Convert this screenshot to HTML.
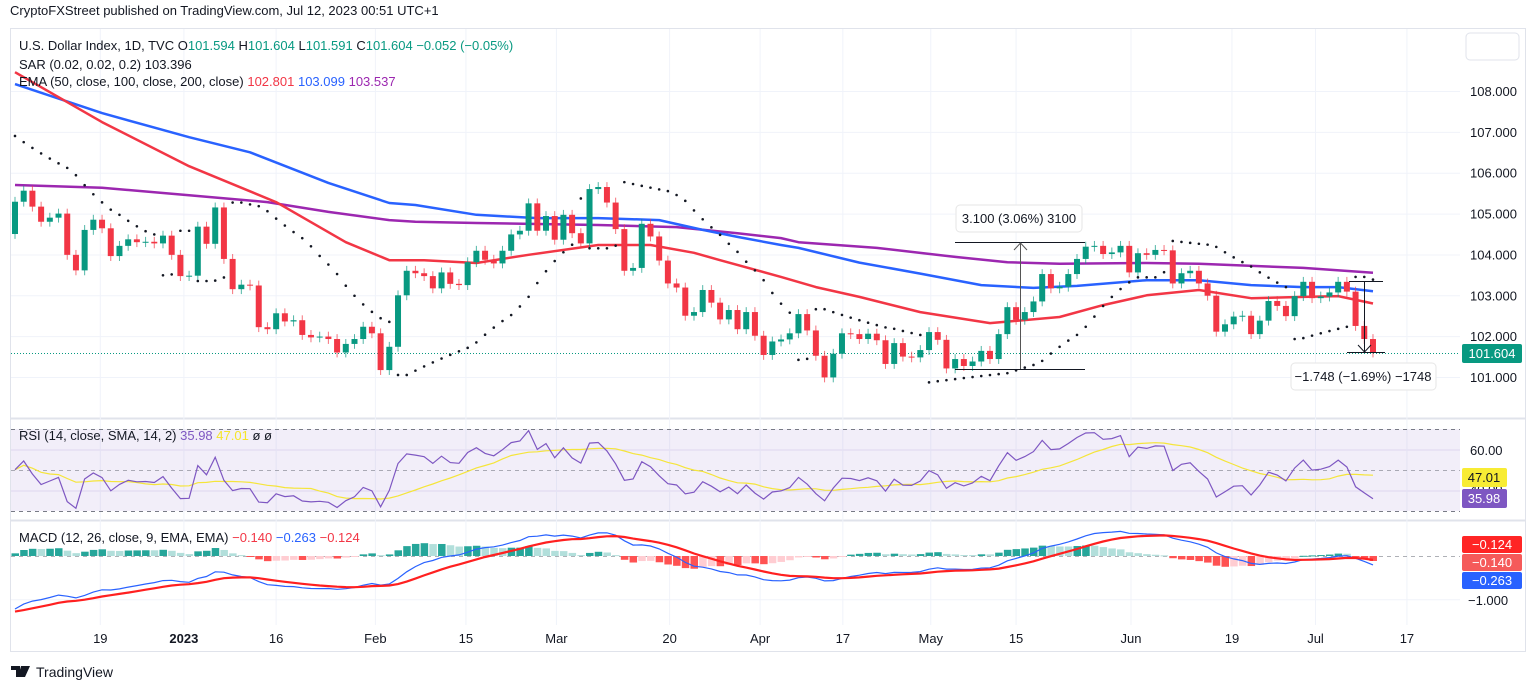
<!DOCTYPE html>
<html><head><meta charset="utf-8"><title>U.S. Dollar Index chart</title>
<style>
html,body{margin:0;padding:0;background:#fff;}
svg{display:block;font-family:"Liberation Sans",Arial,sans-serif;}
</style></head>
<body>
<svg id="chart" width="1536" height="690" viewBox="0 0 1536 690" xmlns="http://www.w3.org/2000/svg">
  <rect x="0" y="0" width="1536" height="690" fill="#ffffff"/>
  <text x="10" y="15" font-size="13" fill="#131722">CryptoFXStreet published on TradingView.com, Jul 12, 2023 00:51 UTC+1</text>
  <rect x="10.5" y="28.5" width="1515" height="623" fill="none" stroke="#e0e3eb"/>
  <line x1="10" y1="418.5" x2="1525" y2="418.5" stroke="#e0e3eb" stroke-width="2"/>
  <line x1="10" y1="520.5" x2="1525" y2="520.5" stroke="#e0e3eb" stroke-width="2"/>
  <g id="grid"></g>
  <rect x="11" y="429" width="1449" height="82" fill="#7e57c2" fill-opacity="0.1"/>
  <line x1="11" y1="429.5" x2="1460" y2="429.5" stroke="#787b86" stroke-dasharray="4,4"/>
  <line x1="11" y1="470.5" x2="1460" y2="470.5" stroke="#787b86" stroke-opacity="0.6" stroke-dasharray="4,4"/>
  <line x1="11" y1="511.5" x2="1460" y2="511.5" stroke="#787b86" stroke-dasharray="4,4"/>
  <line x1="11" y1="556.5" x2="1460" y2="556.5" stroke="#787b86" stroke-opacity="0.6" stroke-dasharray="4,4"/>
  <line x1="11" y1="353.5" x2="1460" y2="353.5" stroke="#089981" stroke-dasharray="1,2"/>
  <g id="plot"></g>

  <g>
    <line x1="955" y1="242.5" x2="1085" y2="242.5" stroke="#131722"/>
    <line x1="955" y1="369.5" x2="1085" y2="369.5" stroke="#131722"/>
    <line x1="1020.5" y1="369" x2="1020.5" y2="243" stroke="#555"/>
    <polyline points="1014,250 1020.5,243 1027,250" fill="none" stroke="#555"/>
    <rect x="956" y="205" width="126" height="27" rx="4" fill="#fff" stroke="#e6e6e6"/>
    <text x="1019" y="223" font-size="13" text-anchor="middle" fill="#131722">3.100 (3.06%) 3100</text>
  </g>
  <g>
    <line x1="1349" y1="281.5" x2="1383" y2="281.5" stroke="#131722"/>
    <line x1="1347" y1="352.5" x2="1385" y2="352.5" stroke="#131722"/>
    <line x1="1364.5" y1="282" x2="1364.5" y2="352" stroke="#131722"/>
    <polyline points="1358,345 1364.5,352 1371,345" fill="none" stroke="#131722"/>
    <rect x="1291" y="363" width="145" height="27" rx="4" fill="#fff" stroke="#e6e6e6"/>
    <text x="1363" y="381" font-size="13" text-anchor="middle" fill="#131722">−1.748 (−1.69%) −1748</text>
  </g>

  <text x="19" y="50" font-size="13" fill="#131722">U.S. Dollar Index, 1D, TVC <tspan fill="#131722">O</tspan><tspan fill="#089981">101.594</tspan> <tspan>H</tspan><tspan fill="#089981">101.604</tspan> <tspan>L</tspan><tspan fill="#089981">101.591</tspan> <tspan>C</tspan><tspan fill="#089981">101.604 −0.052 (−0.05%)</tspan></text>
  <text x="19" y="69" font-size="13" fill="#131722">SAR (0.02, 0.02, 0.2)  <tspan fill="#131722">103.396</tspan></text>
  <text x="19" y="86" font-size="13" fill="#131722">EMA (50, close, 100, close, 200, close) <tspan fill="#f23645">102.801</tspan> <tspan fill="#2962ff">103.099</tspan> <tspan fill="#9c27b0">103.537</tspan></text>
  <text x="19" y="440" font-size="13" fill="#131722">RSI (14, close, SMA, 14, 2) <tspan fill="#7e57c2">35.98</tspan> <tspan fill="#f5e52a">47.01</tspan> ø ø</text>
  <text x="19" y="542" font-size="13" fill="#131722">MACD (12, 26, close, 9, EMA, EMA) <tspan fill="#f23645">−0.140</tspan> <tspan fill="#2962ff">−0.263</tspan> <tspan fill="#f23645">−0.124</tspan></text>

  <rect x="1466" y="33" width="53" height="27" rx="4" fill="#fff" stroke="#e0e3eb"/>
  <g id="axis"></g>

  <rect x="1462" y="344" width="60" height="19" rx="2" fill="#089981"/>
  <text x="1492" y="358" font-size="13" text-anchor="middle" fill="#fff">101.604</text>
  <text x="1470" y="455" font-size="13" fill="#131722">60.00</text>
  <text x="1470" y="494" font-size="13" fill="#131722">40.00</text>
  <rect x="1462" y="468" width="45" height="19" rx="2" fill="#f8ec34"/>
  <text x="1484" y="482" font-size="13" text-anchor="middle" fill="#131722">47.01</text>
  <rect x="1462" y="489" width="45" height="19" rx="2" fill="#7e57c2"/>
  <text x="1484" y="503" font-size="13" text-anchor="middle" fill="#fff">35.98</text>
  <rect x="1462" y="536" width="60" height="17" rx="2" fill="#ff2525"/>
  <text x="1492" y="549" font-size="13" text-anchor="middle" fill="#fff">−0.124</text>
  <rect x="1462" y="554" width="60" height="17" rx="2" fill="#f55a5a"/>
  <text x="1492" y="567" font-size="13" text-anchor="middle" fill="#fff">−0.140</text>
  <rect x="1462" y="572" width="60" height="17" rx="2" fill="#2962ff"/>
  <text x="1492" y="585" font-size="13" text-anchor="middle" fill="#fff">−0.263</text>
  <text x="1468" y="605" font-size="13" fill="#131722">−1.000</text>

  <g id="timeaxis"></g>
  <g>
    <path d="M11 666h9v11h-4v-7h-5z M21 666h4l-3 11h-4z M25 666h5l-5 11h-3z" fill="#131722"/>
    <text x="36" y="677" font-size="14" fill="#131722">TradingView</text>
  </g>
</svg>
<script>
// ---- data ----
const closes = [105.29,105.56,105.17,104.80,104.90,105.00,103.99,103.61,104.60,104.85,
104.64,103.96,104.21,104.37,104.30,104.31,104.27,104.46,103.99,103.47,
103.48,104.68,104.26,105.15,103.89,103.15,103.26,103.24,102.22,102.17,
102.56,102.36,102.39,102.03,101.97,101.99,101.93,101.60,101.81,101.93,
102.23,102.07,101.17,101.74,103.00,103.60,103.54,103.47,103.17,103.56,
103.28,103.25,103.81,104.09,103.87,103.78,104.09,104.49,104.58,105.25,
104.58,104.94,104.36,104.97,104.52,104.27,105.60,105.65,105.27,104.62,
103.60,103.67,104.75,104.44,103.85,103.29,103.19,102.50,102.59,103.13,
102.82,102.41,102.64,102.17,102.59,102.01,101.54,101.87,101.92,102.07,
102.54,102.14,101.52,100.99,101.57,102.07,102.05,101.93,102.06,101.90,
101.32,101.83,101.50,101.48,101.66,102.10,101.91,101.21,101.44,101.27,
101.38,101.64,101.44,102.05,102.71,102.40,102.59,102.85,103.52,103.17,
103.21,103.52,103.89,104.19,104.21,104.01,104.05,104.21,103.56,104.03,
103.99,104.11,104.10,103.29,103.54,103.60,103.29,102.99,102.11,102.29,
102.48,102.50,102.05,102.38,102.86,102.74,102.49,102.98,103.33,102.93,
102.97,103.07,103.33,103.09,102.25,101.93,101.60];
const firstOpen = 104.50;
const ema50Bars = [0,10,20,30,38,43,47,53,59,67,73,78,81,88,92,97,104,112,120,125,130,136,142,148,152,156];
const ema50Vals = [108.46,107.24,106.16,105.28,104.30,103.86,103.86,103.79,103.99,104.23,104.23,104.04,103.86,103.45,103.20,102.96,102.59,102.32,102.47,102.76,103.00,103.13,102.93,102.96,102.98,102.80];
const ema100Bars = [0,10,20,27,36,43,46,53,60,67,74,79,83,88,90,97,104,111,117,122,130,136,142,148,152,156];
const ema100Vals = [108.17,107.46,106.87,106.5,105.75,105.26,105.21,104.97,104.89,104.89,104.84,104.6,104.43,104.23,104.16,103.8,103.53,103.25,103.18,103.23,103.37,103.37,103.25,103.2,103.2,103.1];
const ema200Bars = [0,10,20,29,36,43,46,53,67,76,83,88,90,99,108,114,120,130,136,148,156];
const ema200Vals = [105.7,105.63,105.45,105.28,105.04,104.84,104.8,104.77,104.72,104.67,104.52,104.4,104.3,104.16,103.94,103.81,103.77,103.79,103.77,103.67,103.55];
const priceTicks = [108,107,106,105,104,103,102,101];
const timeLabels = ["19","2023","16","Feb","15","Mar","20","Apr","17","May","15","Jun","19","Jul","17"];
const timeLabelBars = [9.8,19.4,30,41.4,51.8,62.2,75.2,85.6,95.1,105.2,115,128.2,139.8,149.4,159.9];

// ---- scales ----
const NS = "http://www.w3.org/2000/svg";
const X0 = 15, DX = 8.705;
const xOf = i => X0 + i*DX;
const yP = p => 91 + (108 - p)*40.86;
const yR = v => 470 - (v - 50)*2.05;
const yM = v => 556 - v*43.3;
function mk(tag, attrs, parent){const e=document.createElementNS(NS,tag);for(const k in attrs)e.setAttribute(k,attrs[k]);parent.appendChild(e);return e;}
const plot = document.getElementById('plot');
const grid = document.getElementById('grid');
const axis = document.getElementById('axis');
const taxis = document.getElementById('timeaxis');

priceTicks.forEach(p=>{
  const l = mk('line',{x1:11,x2:1460,y1:yP(p)+0.5,y2:yP(p)+0.5,stroke:'#f0f3fa'},grid);
  
  
  const t = mk('text',{x:1470,y:yP(p)+5,'font-size':13,fill:'#131722'},axis);
  
  
  t.textContent = p.toFixed(3);
});
[60,40].forEach(v=>{
  const l = mk('line',{x1:11,x2:1460,y1:yR(v)+0.5,y2:yR(v)+0.5,stroke:'#e8e4f3'},grid);
  
  
});
const lm = mk('line',{x1:11,x2:1460,y1:yM(-1)+0.5,y2:yM(-1)+0.5,stroke:'#f0f3fa'},grid);


timeLabels.forEach((s,k)=>{
  const x = xOf(timeLabelBars[k]);
  const l = mk('line',{x1:x,x2:x,y1:29,y2:625,stroke:'#f0f3fa'},grid);
  
  
  const t = mk('text',{x:x,y:643,'font-size':13,'text-anchor':'middle',fill:'#131722','font-weight':s==='2023'?'bold':'normal'},taxis);
  
  
  t.textContent = s;
});

const n = closes.length;
const opens = closes.map((c,i)=> i===0 ? firstOpen : closes[i-1]);
const highs = closes.map((c,i)=> Math.max(c,opens[i])+0.12);
const lows = closes.map((c,i)=> Math.min(c,opens[i])-0.12);

function drawLine(bars, vals, color, name){
  const pts = bars.map((b,k)=> xOf(b).toFixed(1)+','+yP(vals[k]).toFixed(1)).join(' ');
  const pl = mk('polyline',{points:pts,fill:'none',stroke:color,'stroke-width':2.5,'stroke-linejoin':'round'},plot);
  
  
}
drawLine(ema200Bars, ema200Vals, '#9c27b0', 'ema-200-line');
drawLine(ema100Bars, ema100Vals, '#2962ff', 'ema-100-line');
drawLine(ema50Bars, ema50Vals, '#f23645', 'ema-50-line');

for(let i=0;i<n;i++){
  const up = closes[i]>=opens[i];
  const col = up ? '#089981' : '#f23645';
  const x = xOf(i);
  const w = mk('line',{x1:x,x2:x,y1:yP(highs[i]),y2:yP(lows[i]),stroke:col,'stroke-width':1,'stroke-opacity':0.7},plot);
  
  
  const top = yP(Math.max(opens[i],closes[i])), bot = yP(Math.min(opens[i],closes[i]));
  const b = mk('rect',{x:x-3,y:top,width:6,height:Math.max(1,bot-top),fill:col},plot);
  
  
}

let trend=-1, sar=106.9, ep=lows[0], af=0.06;
const sars=[sar];
for(let i=1;i<n;i++){
  sar = sar + af*(ep-sar);
  if(trend<0){
    sar = Math.max(sar, highs[i-1], i>1?highs[i-2]:highs[i-1]);
    if(highs[i]>sar){trend=1;sar=ep;ep=highs[i];af=0.02;}
    else if(lows[i]<ep){ep=lows[i];af=Math.min(0.2,af+0.02);}
  } else {
    sar = Math.min(sar, lows[i-1], i>1?lows[i-2]:lows[i-1]);
    if(lows[i]<sar){trend=-1;sar=ep;ep=lows[i];af=0.02;}
    else if(highs[i]>ep){ep=highs[i];af=Math.min(0.2,af+0.02);}
  }
  sars.push(sar);
}
sars.forEach((s,i)=>{
  const d = mk('circle',{cx:xOf(i),cy:yP(s),r:1.3,fill:'#131722'},plot);
  
  
});

let ag=0.06, al=0.12; const rsi=[];
for(let i=0;i<n;i++){
  const ch = closes[i]-(i===0?firstOpen:closes[i-1]);
  ag = (ag*13 + Math.max(ch,0))/14; al = (al*13 + Math.max(-ch,0))/14;
  rsi.push(100 - 100/(1+ag/al));
}
const rsiSma = rsi.map((v,i)=>{const s=rsi.slice(Math.max(0,i-13),i+1);return s.reduce((a,b)=>a+b,0)/s.length;});
function series(vals, yf, color, name, w){
  const pts = vals.map((v,i)=> xOf(i).toFixed(1)+','+yf(v).toFixed(1)).join(' ');
  const pl = mk('polyline',{points:pts,fill:'none',stroke:color,'stroke-width':w},plot);
  
  
}
series(rsiSma, yR, '#f5e53a', 'rsi-sma-line', 1.2);
series(rsi, yR, '#7e57c2', 'rsi-line', 1.2);

let e12=105.3, e26=106.62, sig=-1.3; const macd=[], sigs=[], hist=[];
for(let i=0;i<n;i++){
  e12 += (closes[i]-e12)*2/13; e26 += (closes[i]-e26)*2/27;
  const m = e12-e26; sig += (m-sig)*2/10;
  macd.push(m); sigs.push(sig); hist.push(m-sig);
}
hist.forEach((h,i)=>{
  const prev = i>0?hist[i-1]:h;
  const col = h>=0 ? (h>=prev?'#26a69a':'#b2dfdb') : (h<prev?'#ff5252':'#ffcdd2');
  const y0 = yM(0), y1 = yM(h);
  const r = mk('rect',{x:xOf(i)-3.5,y:Math.min(y0,y1),width:7.5,height:Math.max(1,Math.abs(y1-y0)),fill:col},plot);
  
  
});
series(macd, yM, '#2962ff', 'macd-line', 1.2);
series(sigs, yM, '#ff2020', 'macd-signal-line', 2.2);
</script>
</body></html>
